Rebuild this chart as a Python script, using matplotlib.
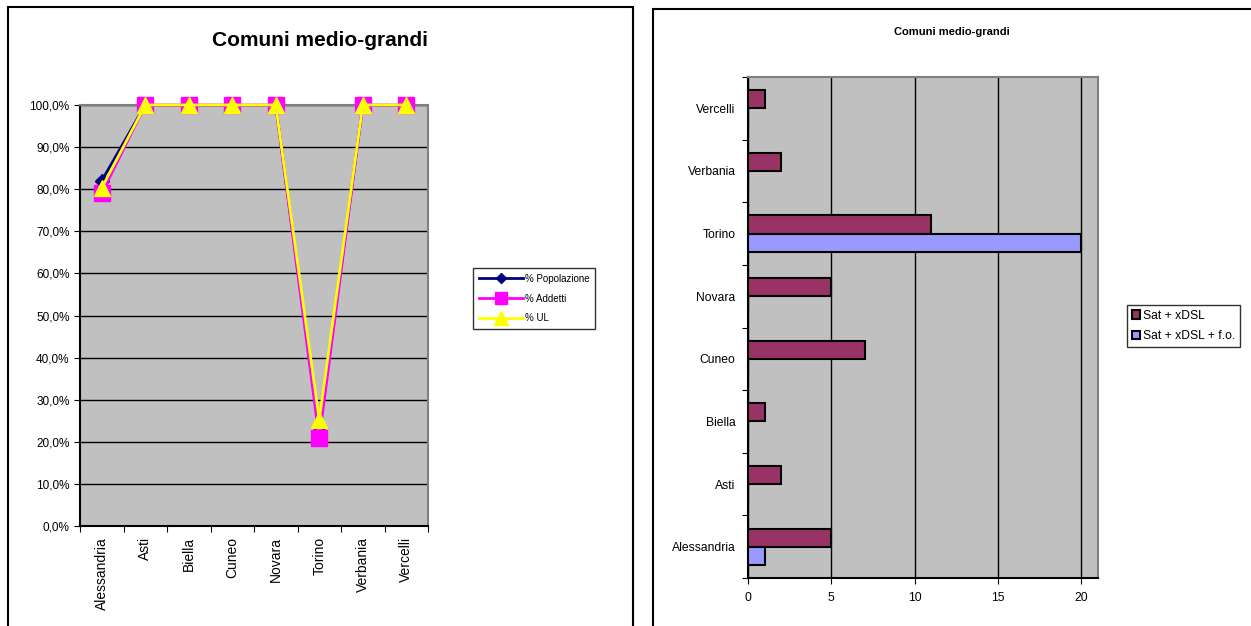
import matplotlib
matplotlib.use("Agg")
import matplotlib.pyplot as plt
from matplotlib.patches import Rectangle
from matplotlib.ticker import FixedLocator, FuncFormatter

plt.rcParams['font.family'] = ['Liberation Sans', 'DejaVu Sans']

comuni = ["Alessandria", "Asti", "Biella", "Cuneo", "Novara", "Torino", "Verbania", "Vercelli"]

# percent coverage per comune
pct_popolazione = [82.0, 100, 100, 100, 100, 22.5, 100, 100]
pct_addetti = [79.0, 100, 100, 100, 100, 20.8, 100, 100]
pct_ul = [80.3, 100, 100, 100, 100, 25.2, 100, 100]

# number of areas by technology
sat_xdsl = [5, 2, 1, 7, 5, 11, 2, 1]
sat_xdsl_fo = [1, 0, 0, 0, 0, 20, 0, 0]

W, H = 1251, 626
fig = plt.figure(figsize=(W / 100, H / 100), dpi=100)


def px_axes(x0, y0, x1, y1):
    return fig.add_axes([x0 / W, 1 - y1 / H, (x1 - x0) / W, (y1 - y0) / H])


def panel(x0, y0, x1, y1):
    fig.patches.append(Rectangle((x0 / W, 1 - y1 / H), (x1 - x0) / W, (y1 - y0) / H,
                                 transform=fig.transFigure, fill=False,
                                 edgecolor="black", linewidth=1.5))


def style_frame(ax):
    ax.set_facecolor("#C0C0C0")
    ax.spines["left"].set_color("black")
    ax.spines["bottom"].set_color("black")
    ax.spines["top"].set_color("#808080")
    ax.spines["right"].set_color("#808080")
    for s in ax.spines.values():
        s.set_linewidth(1.5)


panel(8, 7, 633, 640)
panel(653, 9, 1260, 640)

# ---- left: line chart ----
ax1 = px_axes(80, 105, 428, 526)
style_frame(ax1)
xs = [i + 0.5 for i in range(len(comuni))]
ax1.plot(xs, pct_popolazione, color="#000080", lw=2, marker="D", ms=7,
         label="% Popolazione", zorder=3)
ax1.plot(xs, pct_addetti, color="#FF00FF", lw=2, marker="s", ms=11,
         label="% Addetti", zorder=4, clip_on=False)
ax1.plot(xs, pct_ul, color="#FFFF00", lw=2, marker="^", ms=12,
         label="% UL", zorder=5, clip_on=False)
ax1.set_xlim(0, len(comuni))
ax1.set_ylim(0, 100)
ax1.set_yticks(range(0, 101, 10))
ax1.yaxis.set_major_formatter(FuncFormatter(lambda v, p: f"{v:.1f}%".replace(".", ",")))
ax1.grid(axis="y", color="black", lw=1)
ax1.set_axisbelow(True)
ax1.xaxis.set_major_locator(FixedLocator(range(len(comuni) + 1)))
ax1.xaxis.set_minor_locator(FixedLocator(xs))
ax1.set_xticklabels([])
ax1.set_xticklabels(comuni, minor=True, rotation=90)
ax1.tick_params(axis="x", which="minor", length=0, pad=8, labelsize=10)
ax1.tick_params(axis="x", which="major", direction="out", length=4)
ax1.tick_params(axis="y", direction="out", length=4, labelsize=8.5)
fig.text((8 + 633) / 2 / W, 1 - 40 / H, "Comuni medio-grandi", ha="center", va="center",
         fontsize=15, fontweight="bold")
leg1 = ax1.legend(loc="upper left", bbox_to_anchor=(473 / W, 1 - 268 / H),
                  bbox_transform=fig.transFigure, fontsize=7, frameon=True,
                  fancybox=False, edgecolor="black", handlelength=4.5, markerscale=0.8,
                  borderpad=0.6, labelspacing=1.0, handletextpad=0.2, borderaxespad=0)
leg1.get_frame().set_linewidth(1)

# ---- right: horizontal bars ----
ax2 = px_axes(748, 77, 1098, 578)
style_frame(ax2)
h = 0.29
ys = [i + 0.5 for i in range(len(comuni))]
ax2.barh([y + h / 2 for y in ys], sat_xdsl, height=h, color="#993366",
         edgecolor="black", lw=1.5, label="Sat + xDSL", zorder=3)
ax2.barh([y - h / 2 for y in ys], sat_xdsl_fo, height=h, color="#9999FF",
         edgecolor="black", lw=1.5, label="Sat + xDSL + f.o.", zorder=3)
ax2.set_xlim(0, 21)
ax2.set_ylim(0, len(comuni))
ax2.set_xticks([0, 5, 10, 15, 20])
ax2.grid(axis="x", color="black", lw=1)
ax2.set_axisbelow(True)
ax2.yaxis.set_major_locator(FixedLocator(range(len(comuni) + 1)))
ax2.yaxis.set_minor_locator(FixedLocator(ys))
ax2.set_yticklabels([])
ax2.set_yticklabels(comuni, minor=True)
ax2.tick_params(axis="y", which="minor", length=0, pad=9, labelsize=8.7)
ax2.tick_params(axis="y", which="major", direction="out", length=4)
ax2.tick_params(axis="x", direction="out", length=4, labelsize=8.7, pad=6)
fig.text(952 / W, 1 - 32 / H, "Comuni medio-grandi", ha="center", va="center",
         fontsize=8, fontweight="bold")
leg2 = ax2.legend(loc="upper left", bbox_to_anchor=(1127 / W, 1 - 305 / H),
                  bbox_transform=fig.transFigure, fontsize=8.7, frameon=True,
                  fancybox=False, edgecolor="black", handlelength=0.7, handleheight=0.7,
                  borderpad=0.4, labelspacing=0.7, handletextpad=0.2, borderaxespad=0)
leg2.get_frame().set_linewidth(1)

fig.savefig("out.png", dpi=100)
